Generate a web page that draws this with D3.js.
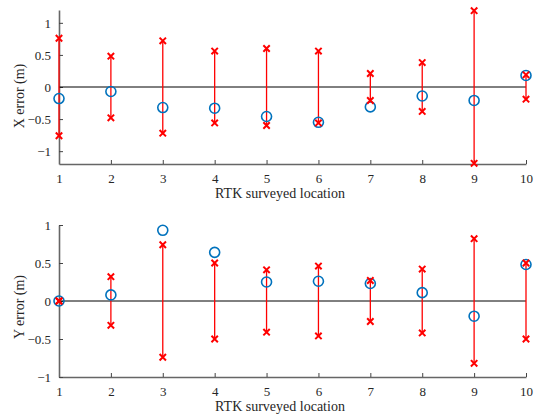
<!DOCTYPE html>
<html lang="en">
<head>
    <meta charset="UTF-8">
    <title>RTK error</title>
    <script src="https://cdn.jsdelivr.net/npm/d3@7"></script>
    <style>
        body { margin: 0; background: #fff; }
        svg text { font-family: "Liberation Serif", "Times New Roman", serif; fill: #262626; }
    </style>
</head>
<body>
    <div id="chart"></div>
    <script>
        const locations = [1, 2, 3, 4, 5, 6, 7, 8, 9, 10];

        // X error: measured error and symmetric bound
        const xError = [-0.18, -0.07, -0.32, -0.33, -0.46, -0.55, -0.31, -0.14, -0.21, 0.18];
        const xBound = [0.76, 0.48, 0.72, 0.56, 0.60, 0.56, 0.21, 0.38, 1.19, 0.19];

        // Y error
        const yError = [0.0, 0.08, 0.93, 0.64, 0.25, 0.26, 0.23, 0.11, -0.20, 0.48];
        const yBound = [0.0, 0.32, 0.74, 0.50, 0.41, 0.46, 0.27, 0.42, 0.82, 0.50];

        const xTicksTop = [-1, -0.5, 0, 0.5, 1];
        const yTicksBottom = [-1, -0.5, 0, 0.5, 1];

        const svg = d3.select("#chart").append("svg")
            .attr("width", 542)
            .attr("height", 418);

        function panel(opts) {
            const x = d3.scaleLinear().domain([1, 10]).range([59, 526]);
            const y = d3.scaleLinear().domain(opts.domain).range([opts.bottom, opts.top]);
            const g = svg.append("g");

            // bottom axis, ticks pointing inward
            const xa = g.append("g")
                .attr("transform", `translate(0,${opts.bottom})`)
                .call(d3.axisBottom(x).tickValues(locations).tickSizeInner(-4).tickSizeOuter(0).tickPadding(10).tickFormat(d3.format("d")));
            xa.select(".domain").attr("stroke", "#666").attr("stroke-width", 1.6);
            xa.selectAll(".tick line").attr("stroke", "#444");
            xa.selectAll("text").attr("font-size", 13);

            const ya = g.append("g")
                .attr("transform", "translate(59,0)")
                .call(d3.axisLeft(y).tickValues(opts.ticks).tickSizeInner(-4).tickSizeOuter(0).tickPadding(8).tickFormat(d3.format("")));
            ya.select(".domain").attr("stroke", "#666").attr("stroke-width", 1.6);
            ya.selectAll(".tick line").attr("stroke", "#444");
            ya.selectAll("text").attr("font-size", 13);

            // zero line
            g.append("line")
                .attr("x1", x(1)).attr("x2", x(10))
                .attr("y1", y(0)).attr("y2", y(0))
                .attr("stroke", "#000").attr("stroke-width", 1);

            // error bars
            g.selectAll(".bar").data(locations).enter().append("line")
                .attr("x1", d => x(d)).attr("x2", d => x(d))
                .attr("y1", (d, i) => y(opts.bound[i])).attr("y2", (d, i) => y(-opts.bound[i]))
                .attr("stroke", "#ff0000").attr("stroke-width", 1.3);

            // measured error circles
            g.selectAll(".pt").data(locations).enter().append("circle")
                .attr("cx", d => x(d))
                .attr("cy", (d, i) => y(opts.err[i]))
                .attr("r", 5)
                .attr("fill", "none")
                .attr("stroke", "#0072BD")
                .attr("stroke-width", 1.6);

            // bound markers
            const marks = [];
            locations.forEach((d, i) => {
                marks.push({ loc: d, v: opts.bound[i] });
                marks.push({ loc: d, v: -opts.bound[i] });
            });
            const s = 3.2;
            g.selectAll(".mk").data(marks).enter().append("path")
                .attr("transform", d => `translate(${x(d.loc)},${y(d.v)})`)
                .attr("d", `M${-s},${-s}L${s},${s}M${-s},${s}L${s},${-s}`)
                .attr("stroke", "#ff0000")
                .attr("stroke-width", 2)
                .attr("fill", "none");

            // labels
            g.append("text")
                .attr("x", 280).attr("y", opts.bottom + 34)
                .attr("text-anchor", "middle")
                .attr("font-size", 14)
                .text("RTK surveyed location");

            g.append("text")
                .attr("transform", `translate(24,${opts.ylabelY}) rotate(-90)`)
                .attr("text-anchor", "middle")
                .attr("font-size", 14)
                .text(opts.ylabel);
        }

        panel({ domain: [-1.2, 1.2], top: 10, bottom: 164, ticks: xTicksTop, err: xError, bound: xBound, ylabel: "X error (m)", ylabelY: 96 });
        panel({ domain: [-1, 1], top: 225, bottom: 377, ticks: yTicksBottom, err: yError, bound: yBound, ylabel: "Y error (m)", ylabelY: 307 });
    </script>
</body>
</html>
